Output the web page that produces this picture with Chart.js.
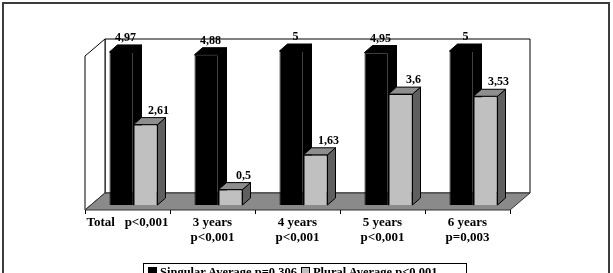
<!DOCTYPE html>
<html>
<head>
<meta charset="utf-8">
<script src="https://cdn.jsdelivr.net/npm/chart.js@4"></script>
<style>
    html, body { margin: 0; padding: 0; background: #fff; overflow: hidden; }
    #wrap { position: relative; width: 613px; height: 273px; overflow: hidden; }
    #frame { position: absolute; left: 2px; top: 2px; width: 608px; height: 320px; box-sizing: border-box; border: 2px solid #3c3c3c; }
    canvas { position: absolute; left: 0; top: 0; }
    #legend { position: absolute; left: 143px; top: 263px; width: 324px; height: 22px; box-sizing: border-box;
              border: 1px solid #000; font: bold 12.5px 'Liberation Serif', serif; color: #000;
              white-space: nowrap; padding: 1px 0 0 4px; }
    #legend .box { display: inline-block; width: 9px; height: 9px; box-sizing: border-box; border: 1px solid #000; margin-right: 3px; vertical-align: 0; }
    #legend .item { margin-right: 4px; }
</style>
</head>
<body>
<div id="wrap">
    <div id="frame"></div>
    <canvas id="chart" width="613" height="300"></canvas>
    <div id="legend"></div>
</div>
<script>
// Данные графика
const categories = [
    ['Total   p<0,001'],
    ['3 years', 'p<0,001'],
    ['4 years', 'p<0,001'],
    ['5 years', 'p<0,001'],
    ['6 years', 'p=0,003']
];
const singularValues = [4.97, 4.88, 5, 4.95, 5];
const pluralValues = [2.61, 0.5, 1.63, 3.6, 3.53];
const seriesNames = ['Singular Average p=0,306', 'Plural Average p<0,001'];

// Цвета граней: фронт / бок / верх
const faces = [
    { front: '#000000', side: '#000000', top: '#000000' },
    { front: '#c0c0c0', side: '#5f5f5f', top: '#8e8e8e' }
];

const DX = 8, DY = 7;    // глубина столбца
const WX = 14, WY = 12;  // от плоскости столбцов до задней стены
const FX = 6, FY = 5;    // от передней кромки пола до столбцов

function poly(ctx, pts, fill, stroke) {
    ctx.beginPath();
    ctx.moveTo(pts[0][0], pts[0][1]);
    for (let i = 1; i < pts.length; i++) ctx.lineTo(pts[i][0], pts[i][1]);
    ctx.closePath();
    if (fill) { ctx.fillStyle = fill; ctx.fill(); }
    if (stroke) { ctx.strokeStyle = stroke; ctx.stroke(); }
}

const threeD = {
    id: 'threeD',
    beforeDatasetsDraw(chart) {
        const { ctx, chartArea: a } = chart;
        const L = a.left, R = a.right, T = a.top, B = a.bottom;
        ctx.save();
        ctx.lineWidth = 1;

        // Задняя стена
        poly(ctx, [[L + WX, T - WY], [R + WX, T - WY], [R + WX, B - WY], [L + WX, B - WY]], '#fff', '#000');
        // Левая стена
        poly(ctx, [[L - FX, T + FY], [L + WX, T - WY], [L + WX, B - WY], [L - FX, B + FY]], '#fff', '#000');
        // Пол
        poly(ctx, [[L - FX, B + FY], [R - FX, B + FY], [R + WX, B - WY], [L + WX, B - WY]], '#8a8a8a', '#333');

        // Засечки по передней кромке пола
        const n = categories.length;
        const step = (R - L) / n;
        ctx.strokeStyle = '#000';
        for (let k = 0; k <= n; k++) {
            const x = Math.round(L - FX + k * step) + 0.5;
            ctx.beginPath();
            ctx.moveTo(x, B + FY);
            ctx.lineTo(x, B + FY + 4);
            ctx.stroke();
        }

        // Бока и верх столбцов (фронт рисует сам Chart.js)
        for (let i = 0; i < n; i++) {
            chart.data.datasets.forEach((ds, d) => {
                const el = chart.getDatasetMeta(d).data[i];
                const l = el.x - el.width / 2, r = el.x + el.width / 2;
                const t = el.y, b = el.base;
                const f = faces[d];
                poly(ctx, [[r, t], [r + DX, t - DY], [r + DX, b - DY], [r, b]], f.side, '#000');
                poly(ctx, [[l, t], [l + DX, t - DY], [r + DX, t - DY], [r, t]], f.top, '#000');
            });
        }
        ctx.restore();
    },
    afterDatasetsDraw(chart) {
        const { ctx, chartArea: a, scales } = chart;
        ctx.save();
        ctx.fillStyle = '#000';
        ctx.textAlign = 'center';
        ctx.textBaseline = 'middle';

        // Подписи значений
        ctx.font = "bold 12px 'Liberation Serif', serif";
        chart.data.datasets.forEach((ds, d) => {
            chart.getDatasetMeta(d).data.forEach((el, i) => {
                const txt = String(ds.data[i]).replace('.', ',');
                const off = d === 0 ? 4 : 13;
                ctx.fillText(txt, el.x + off, el.y - DY - 7);
            });
        });

        // Подписи категорий
        ctx.font = "bold 13px 'Liberation Serif', serif";
        categories.forEach((lines, i) => {
            const x = scales.x.getPixelForValue(i) - FX;
            lines.forEach((s, j) => ctx.fillText(s, x, a.bottom + 18 + j * 15));
        });
        ctx.restore();
    }
};

new Chart(document.getElementById('chart'), {
    type: 'bar',
    data: {
        labels: categories.map(c => c.join(' ')),
        datasets: [
            { label: seriesNames[0], data: singularValues, backgroundColor: faces[0].front, borderColor: '#000', borderWidth: 1 },
            { label: seriesNames[1], data: pluralValues, backgroundColor: faces[1].front, borderColor: '#000', borderWidth: 1 }
        ]
    },
    options: {
        responsive: false,
        animation: false,
        layout: { padding: { left: 91, right: 97, top: 51, bottom: 95 } },
        datasets: { bar: { categoryPercentage: 0.565, barPercentage: 1 } },
        scales: {
            x: { display: false },
            y: { display: false, min: 0, max: 5 }
        },
        plugins: { legend: { display: false }, tooltip: { enabled: false } }
    },
    plugins: [threeD]
});

// Легенда
document.getElementById('legend').innerHTML = seriesNames.map((name, d) =>
    `<span class="item"><span class="box" style="background:${faces[d].front}"></span>${name}</span>`
).join('');
</script>
</body>
</html>
